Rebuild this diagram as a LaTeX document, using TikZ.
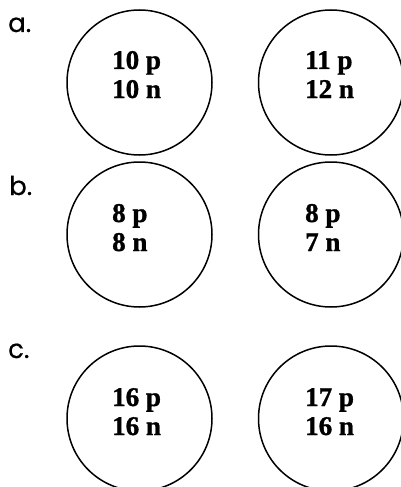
\documentclass[tikz,border=0pt]{standalone}
\usepackage{fontspec}
\setmainfont{Liberation Serif}
\newfontfamily\countfont{Liberation Serif Bold}[FakeBold=1.2]
\newfontfamily\labelfont{Poppins}[FakeBold=0.6]
\begin{document}
\begin{tikzpicture}[x=1pt,y=-1pt,
  atom/.style={draw=black,line width=1.5pt,circle,minimum size=145pt,inner sep=0pt},
  count/.style={anchor=base west,inner sep=0pt,font=\fontsize{27}{29}\selectfont\countfont},
  part/.style={anchor=base west,inner sep=0pt,font=\fontsize{26}{28}\selectfont\labelfont}]
\useasboundingbox (0,0) rectangle (401,487);
\clip (0,0) rectangle (401,487);

% part labels
\node[part] (la) at (8,32) {a.};
\node[part] (lb) at (9,195) {b.};
\node[part] (lc) at (8,358) {c.};

% nuclei, row a
\node[atom] (a1) at (139.5,82.5) {};
\node[atom] (a2) at (331,82.5) {};
\node[count] (a1p) at (112,69) {10 p};
\node[count] (a1n) at (112,98) {10 n};
\node[count] (a2p) at (305,69) {11 p};
\node[count] (a2n) at (305,98) {12 n};

% nuclei, row b
\node[atom] (b1) at (139.5,234.5) {};
\node[atom] (b2) at (331,234.5) {};
\node[count] (b1p) at (112,222) {8 p};
\node[count] (b1n) at (112,251) {8 n};
\node[count] (b2p) at (305,222) {8 p};
\node[count] (b2n) at (305,251) {7 n};

% nuclei, row c
\node[atom] (c1) at (139.5,418.5) {};
\node[atom] (c2) at (331,418.5) {};
\node[count] (c1p) at (112,406) {16 p};
\node[count] (c1n) at (112,435) {16 n};
\node[count] (c2p) at (305,406) {17 p};
\node[count] (c2n) at (305,435) {16 n};
\end{tikzpicture}
\end{document}
